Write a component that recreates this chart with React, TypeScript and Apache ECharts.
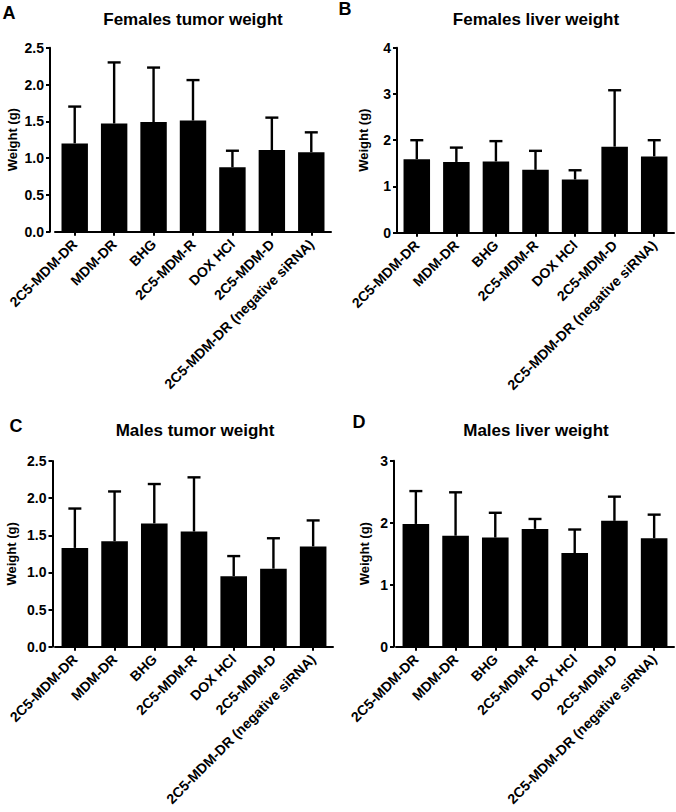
import React, { useEffect, useRef } from 'react';
import * as echarts from 'echarts';

const groups = [
  '2C5-MDM-DR',
  'MDM-DR',
  'BHG',
  '2C5-MDM-R',
  'DOX HCl',
  '2C5-MDM-D',
  '2C5-MDM-DR (negative siRNA)',
];

// mean and SD (upper error only)
const femTumorMean = [1.2, 1.47, 1.49, 1.51, 0.875, 1.11, 1.08];
const femTumorSd = [0.5, 0.83, 0.74, 0.55, 0.225, 0.44, 0.27];
const femLiverMean = [1.59, 1.53, 1.54, 1.36, 1.15, 1.86, 1.65];
const femLiverSd = [0.41, 0.31, 0.44, 0.41, 0.2, 1.22, 0.35];
const maleTumorMean = [1.33, 1.42, 1.66, 1.55, 0.95, 1.05, 1.35];
const maleTumorSd = [0.53, 0.67, 0.53, 0.73, 0.27, 0.41, 0.35];
const maleLiverMean = [1.98, 1.79, 1.76, 1.9, 1.51, 2.03, 1.75];
const maleLiverSd = [0.53, 0.7, 0.4, 0.16, 0.38, 0.39, 0.38];

const panelTitles = ['Females tumor weight', 'Females liver weight', 'Males tumor weight', 'Males liver weight'];
const panelLetters = ['A', 'B', 'C', 'D'];
const yMax = [2.5, 4, 2.5, 3];
const yStep = [0.5, 1, 0.5, 1];
const yDecimals = [1, 0, 1, 0];

const FONT = '"Liberation Sans", Arial, sans-serif';

const App: React.FC = () => {
  const chartRef = useRef<HTMLDivElement>(null);

  useEffect(() => {
    if (!chartRef.current) return;
    const chart = echarts.init(chartRef.current, undefined, { renderer: 'svg' });

    const means = [femTumorMean, femLiverMean, maleTumorMean, maleLiverMean];
    const sds = [femTumorSd, femLiverSd, maleTumorSd, maleLiverSd];

    // grid placement for each panel
    const layout = [
      { left: 55, top: 47.7, width: 276, height: 184, offset: 5, nameGap: 31, titleX: 193, titleY: 19, lx: 9, ly: 13 },
      { left: 397, top: 47.7, width: 277, height: 185, offset: 0, nameGap: 27, titleX: 536, titleY: 19, lx: 345, ly: 9 },
      { left: 55, top: 461, width: 278, height: 185.7, offset: 2.5, nameGap: 35, titleX: 195, titleY: 430, lx: 16, ly: 426 },
      { left: 396, top: 460.7, width: 278, height: 186, offset: 2, nameGap: 23, titleX: 536, titleY: 430, lx: 359, ly: 422 },
    ];

    const axisLine = { show: true, lineStyle: { color: '#000', width: 2 } };
    const axisTick = { show: true, length: 4, lineStyle: { color: '#000', width: 2 } };

    const errorRender = (params: any, api: any) => {
      const i = api.value(0);
      const m = api.value(1);
      const s = api.value(2);
      const base = api.coord([i, m]);
      const top = api.coord([i, m + s]);
      const hw = 6.5;
      const style = { stroke: '#000', lineWidth: 2.4 };
      return {
        type: 'group',
        children: [
          { type: 'line', shape: { x1: base[0], y1: base[1], x2: top[0], y2: top[1] }, style },
          { type: 'line', shape: { x1: top[0] - hw, y1: top[1], x2: top[0] + hw, y2: top[1] }, style },
        ],
      };
    };

    const option: any = {
      animation: false,
      backgroundColor: '#fff',
      textStyle: { fontFamily: FONT },
      grid: layout.map((l) => ({ left: l.left, top: l.top, width: l.width, height: l.height })),
      xAxis: layout.map((_, k) => ({
        type: 'category',
        gridIndex: k,
        data: groups,
        axisLine,
        axisTick: { ...axisTick, alignWithLabel: true },
        axisLabel: {
          interval: 0,
          rotate: 45,
          margin: 10,
          color: '#000',
          fontWeight: 'bold',
          fontSize: 14,
          fontFamily: FONT,
        },
      })),
      yAxis: layout.map((l, k) => ({
        type: 'value',
        gridIndex: k,
        min: 0,
        max: yMax[k],
        interval: yStep[k],
        offset: l.offset,
        name: 'Weight (g)',
        nameLocation: 'middle',
        nameGap: l.nameGap,
        nameTextStyle: { color: '#000', fontWeight: 'bold', fontSize: 13, fontFamily: FONT },
        axisLine,
        axisTick,
        splitLine: { show: false },
        axisLabel: {
          margin: 6,
          color: '#000',
          fontWeight: 'bold',
          fontSize: 14,
          fontFamily: FONT,
          formatter: (v: number) => v.toFixed(yDecimals[k]),
        },
      })),
      series: [
        ...means.map((m, k) => ({
          type: 'bar',
          xAxisIndex: k,
          yAxisIndex: k,
          data: m,
          barWidth: '67%',
          itemStyle: { color: '#000' },
        })),
        ...means.map((m, k) => ({
          type: 'custom',
          xAxisIndex: k,
          yAxisIndex: k,
          z: 3,
          renderItem: errorRender,
          encode: { x: 0, y: 1 },
          data: m.map((v, i) => [i, v, sds[k][i]]),
        })),
      ],
      graphic: [
        ...layout.map((l, k) => ({
          type: 'text',
          x: l.titleX,
          y: l.titleY,
          style: {
            text: panelTitles[k],
            fill: '#000',
            font: `bold 17px ${FONT}`,
            textAlign: 'center',
            textVerticalAlign: 'middle',
          },
        })),
        ...layout.map((l, k) => ({
          type: 'text',
          x: l.lx,
          y: l.ly,
          style: {
            text: panelLetters[k],
            fill: '#000',
            font: `bold 18px ${FONT}`,
            textAlign: 'center',
            textVerticalAlign: 'middle',
          },
        })),
      ],
    };

    chart.setOption(option, true);

    return () => {
      chart.dispose();
    };
  }, []);

  return (
    <div
      ref={chartRef}
      style={{ position: 'absolute', left: 0, top: 0, width: 676, height: 812, background: '#fff' }}
    />
  );
};

export default App;
